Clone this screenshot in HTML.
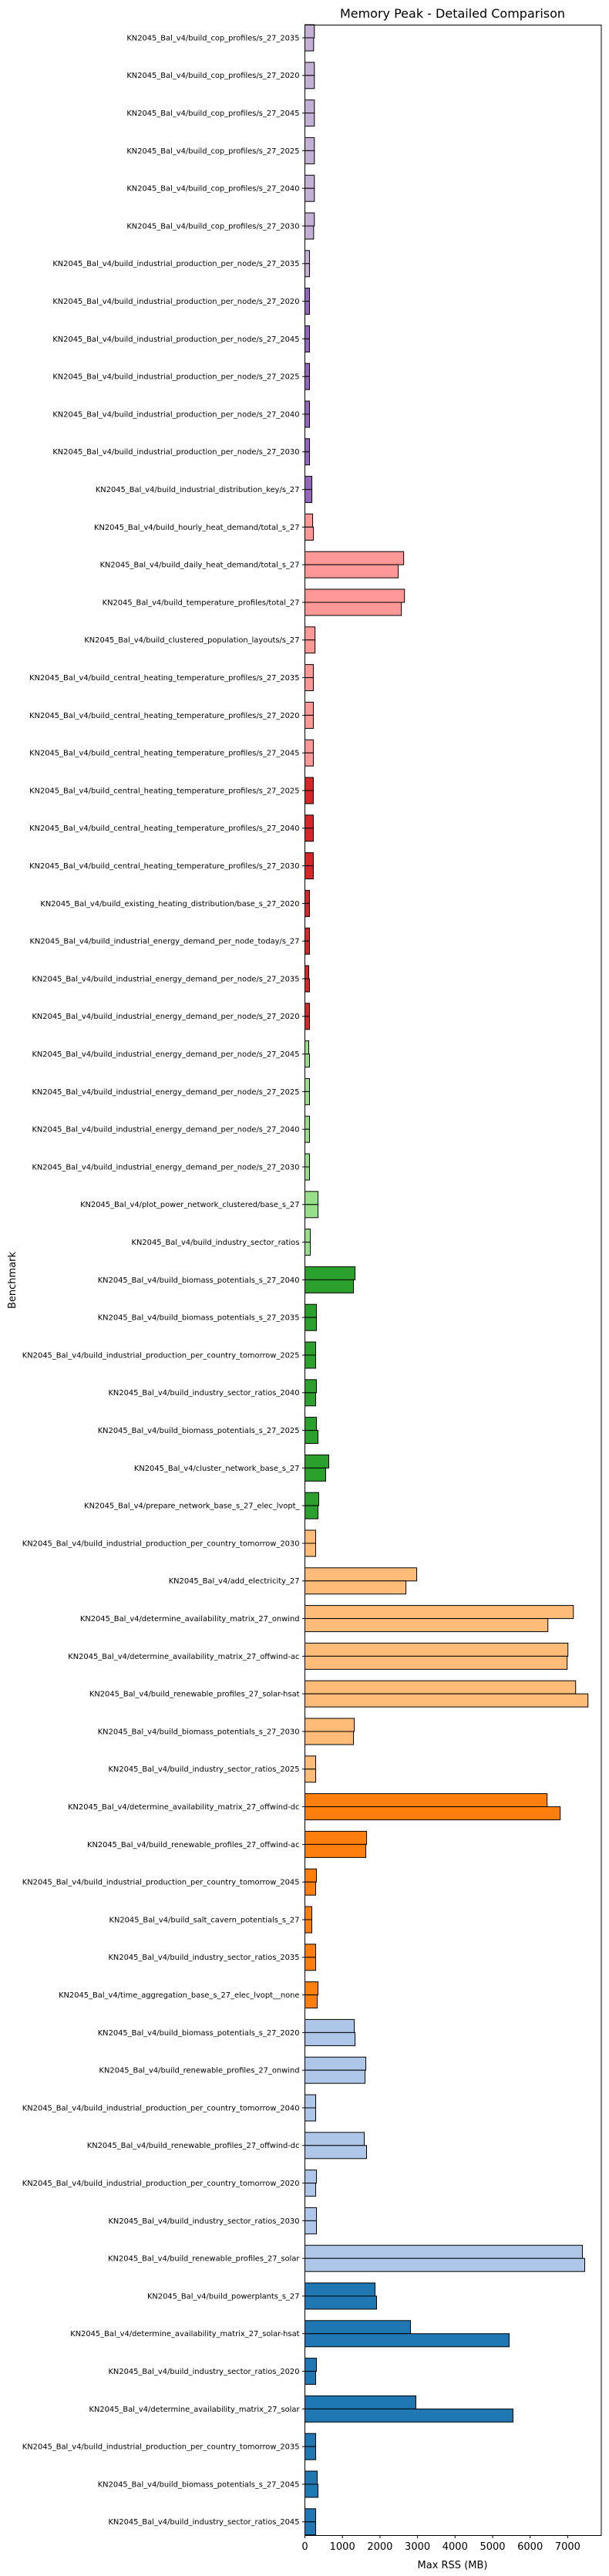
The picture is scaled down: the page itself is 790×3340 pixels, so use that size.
<!DOCTYPE html>
<html><head><meta charset="utf-8"><style>
html,body{margin:0;padding:0;background:#fff;}
svg{display:block;font-family:"DejaVu Sans","Liberation Sans",sans-serif;}
</style></head><body>
<svg id="chart" width="790" height="3340" viewBox="0 0 790 3340" xmlns="http://www.w3.org/2000/svg">
<text x="587" y="23" font-size="16" text-anchor="middle">Memory Peak - Detailed Comparison</text>
<text x="20" y="1660" font-size="13" text-anchor="middle" transform="rotate(-90 20 1660)">Benchmark</text>
<text x="587" y="3330" font-size="13" text-anchor="middle">Max RSS (MB)</text>
<g id="bars"></g><g id="yt"></g><g id="xt"></g>
<rect x="395.5" y="32.5" width="384.5" height="3255" fill="none" stroke="#000" stroke-width="1"/>
</svg>
<script>
const P="KN2045_Bal_v4/";
const categories=["build_cop_profiles/s_27_2035","build_cop_profiles/s_27_2020","build_cop_profiles/s_27_2045","build_cop_profiles/s_27_2025","build_cop_profiles/s_27_2040","build_cop_profiles/s_27_2030",
"build_industrial_production_per_node/s_27_2035","build_industrial_production_per_node/s_27_2020","build_industrial_production_per_node/s_27_2045","build_industrial_production_per_node/s_27_2025","build_industrial_production_per_node/s_27_2040","build_industrial_production_per_node/s_27_2030",
"build_industrial_distribution_key/s_27","build_hourly_heat_demand/total_s_27","build_daily_heat_demand/total_s_27","build_temperature_profiles/total_27","build_clustered_population_layouts/s_27",
"build_central_heating_temperature_profiles/s_27_2035","build_central_heating_temperature_profiles/s_27_2020","build_central_heating_temperature_profiles/s_27_2045","build_central_heating_temperature_profiles/s_27_2025","build_central_heating_temperature_profiles/s_27_2040","build_central_heating_temperature_profiles/s_27_2030",
"build_existing_heating_distribution/base_s_27_2020","build_industrial_energy_demand_per_node_today/s_27",
"build_industrial_energy_demand_per_node/s_27_2035","build_industrial_energy_demand_per_node/s_27_2020","build_industrial_energy_demand_per_node/s_27_2045","build_industrial_energy_demand_per_node/s_27_2025","build_industrial_energy_demand_per_node/s_27_2040","build_industrial_energy_demand_per_node/s_27_2030",
"plot_power_network_clustered/base_s_27","build_industry_sector_ratios","build_biomass_potentials_s_27_2040","build_biomass_potentials_s_27_2035","build_industrial_production_per_country_tomorrow_2025","build_industry_sector_ratios_2040","build_biomass_potentials_s_27_2025","cluster_network_base_s_27","prepare_network_base_s_27_elec_lvopt_","build_industrial_production_per_country_tomorrow_2030",
"add_electricity_27","determine_availability_matrix_27_onwind","determine_availability_matrix_27_offwind-ac","build_renewable_profiles_27_solar-hsat","build_biomass_potentials_s_27_2030","build_industry_sector_ratios_2025",
"determine_availability_matrix_27_offwind-dc","build_renewable_profiles_27_offwind-ac","build_industrial_production_per_country_tomorrow_2045","build_salt_cavern_potentials_s_27","build_industry_sector_ratios_2035","time_aggregation_base_s_27_elec_lvopt__none",
"build_biomass_potentials_s_27_2020","build_renewable_profiles_27_onwind","build_industrial_production_per_country_tomorrow_2040","build_renewable_profiles_27_offwind-dc","build_industrial_production_per_country_tomorrow_2020","build_industry_sector_ratios_2030","build_renewable_profiles_27_solar",
"build_powerplants_s_27","determine_availability_matrix_27_solar-hsat","build_industry_sector_ratios_2020","determine_availability_matrix_27_solar","build_industrial_production_per_country_tomorrow_2035","build_biomass_potentials_s_27_2045","build_industry_sector_ratios_2045"];
const seriesA=[253,253,253,253,253,253, 124,124,124,124,124,124, 187,207,2632,2653,270, 225,225,225,225,225,225, 123,123, 103,123,103,123,123,123, 350,144,1336,308,288,308,308,637,370,288, 2979,7151,7007,7212,1315,288, 6452,1644,308,185,288,350, 1315,1623,288,1581,308,308,7392, 1869,2813,308,2957,288,329,288];
const seriesB=[233,253,253,253,253,233, 124,124,124,124,124,124, 187,228,2487,2570,270, 225,225,225,225,225,225, 123,123, 123,123,123,123,123,123, 350,144,1295,308,288,288,350,555,350,288, 2692,6473,6986,7541,1295,288, 6801,1623,288,185,288,329, 1336,1602,288,1643,288,308,7454, 1910,5441,288,5544,288,350,288];
const colorGroup=[0,0,0,0,0,0, 0,1,1,1,1,1, 1,2,2,2,2, 2,2,2,3,3,3, 3,3, 3,3,4,4,4,4, 4,4,5,5,5,5,5,5,5,6, 6,6,6,6,6,6, 7,7,7,7,7,7, 8,8,8,8,8,8,8, 9,9,9,9,9,9,9];
const xTicks=[0,1000,2000,3000,4000,5000,6000,7000];
const palette=["#c5b0d5","#9467bd","#ff9896","#d62728","#98df8a","#2ca02c","#ffbb78","#ff7f0e","#aec7e8","#1f77b4"];
const NS="http://www.w3.org/2000/svg";
const X0=395.5,PX=0.0487;
function xs(v){return X0+v*PX;}
function ys(i){return 49+i*48.8;}
const bh=17;
const gb=document.getElementById('bars'),gy=document.getElementById('yt'),gx=document.getElementById('xt');
function mk(t,a,p){const e=document.createElementNS(NS,t);for(const k in a)e.setAttribute(k,a[k]);p.appendChild(e);return e;}
categories.forEach((c,i)=>{
  const y=ys(i),col=palette[colorGroup[i]];
  const r1=mk('rect',{x:X0,y:y-bh,width:xs(seriesA[i])-X0,height:bh,fill:col,stroke:'#000','stroke-width':1},gb);
  
  
  const r2=mk('rect',{x:X0,y:y,width:xs(seriesB[i])-X0,height:bh,fill:col,stroke:'#000','stroke-width':1},gb);
  
  
  const tk=mk('line',{x1:X0-3.5,x2:X0,y1:y,y2:y,stroke:'#000','stroke-width':1},gy);
  
  
  const t=mk('text',{x:X0-7,y:y+3.4,'font-size':9.9,'text-anchor':'end'},gy);
  t.textContent=P+c;
  
  
});
xTicks.forEach(v=>{
  const x=xs(v);
  const l=mk('line',{x1:x,x2:x,y1:3287.5,y2:3291,stroke:'#000','stroke-width':1},gx);
  
  
  const t=mk('text',{x:x,y:3306,'font-size':13,'text-anchor':'middle'},gx);
  t.textContent=String(v);
  
  
});
</script>
</body></html>
